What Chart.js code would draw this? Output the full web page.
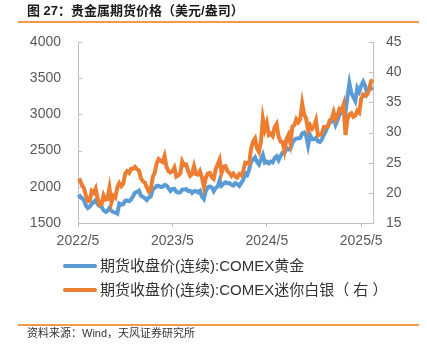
<!DOCTYPE html>
<html>
<head>
<meta charset="utf-8">
<script src="https://cdn.jsdelivr.net/npm/chart.js@4.4.1/dist/chart.umd.min.js"></script>
<style>
  body { margin: 0; background: #fff; font-family: "Liberation Sans", Arial, "Noto Sans CJK SC", sans-serif; }
  #wrap { position: relative; width: 427px; height: 349px; overflow: hidden; }
  #myChart { position: absolute; left: 0; top: 0; }
  .title { position: absolute; left: 27px; top: 3px; font-size: 13px; line-height: 16px; font-weight: bold; color: #1a1a1a; white-space: nowrap; }
  .rule { position: absolute; left: 18px; width: 401px; height: 1.5px; background: #f29a4a; }
  .leg { position: absolute; left: 63px; height: 20px; font-size: 15px; line-height: 20px; color: #333; white-space: nowrap; }
  .leg span { display: inline-block; width: 34px; height: 4px; border-radius: 2px; vertical-align: middle; margin-right: 3px; position: relative; top: -1px; }
  .source { position: absolute; left: 27px; top: 326px; font-size: 11px; line-height: 14px; color: #333; white-space: nowrap; }
</style>
</head>
<body>
<div id="wrap">
  <canvas id="myChart" width="427" height="349"></canvas>
  <div class="title">图 27：贵金属期货价格（美元/盎司）</div>
  <div class="rule" style="top:21px"></div>
  <div class="leg" style="top:256px"><span style="background:#5b9bd5"></span>期货收盘价(连续):COMEX黄金</div>
  <div class="leg" style="top:280px"><span style="background:#ed7d31"></span>期货收盘价(连续):COMEX迷你白银（ 右 ）</div>
  <div class="rule" style="top:324px"></div>
  <div class="source">资料来源：Wind，天风证券研究所</div>
</div>
<script>
// GRAPH METAUX PRECIEUX

const months = [
    '2022/5', '2022/6', '2022/7', '2022/8', '2022/9', '2022/10', '2022/11', '2022/12',
    '2023/1', '2023/2', '2023/3', '2023/4', '2023/5', '2023/6', '2023/7', '2023/8',
    '2023/9', '2023/10', '2023/11', '2023/12', '2024/1', '2024/2', '2024/3', '2024/4',
    '2024/5', '2024/6', '2024/7', '2024/8', '2024/9', '2024/10', '2024/11', '2024/12',
    '2025/1', '2025/2', '2025/3', '2025/4', '2025/5', '2025/6'
];

const xTicks = ['2022/5', '2023/5', '2024/5', '2025/5'];

// 4 valeurs par mois
const gold = [
    1852, 1871, 1840, 1817,
    1742, 1707, 1727, 1765,
    1791, 1816, 1760, 1738,
    1721, 1677, 1655, 1668,
    1709, 1668, 1650, 1645,
    1630, 1769, 1755, 1760,
    1809, 1810, 1800, 1826,
    1869, 1920, 1928, 1945,
    1876, 1862, 1842, 1817,
    1854, 1867, 1973, 1983,
    2011, 2015, 1999, 2000,
    2025, 2019, 1981, 1944,
    1970, 1971, 1929, 1920,
    1925, 1960, 1962, 1970,
    1944, 1946, 1916, 1940,
    1942, 1923, 1945, 1866,
    1832, 1941, 1994, 2006,
    1992, 1940, 1984, 2003,
    2089, 2014, 2040, 2062,
    2050, 2051, 2029, 2018,
    2053, 2038, 2013, 2055,
    2096, 2185, 2161, 2238,
    2345, 2374, 2406, 2347,
    2309, 2375, 2440, 2335,
    2348, 2325, 2348, 2336,
    2397, 2421, 2368, 2427,
    2470, 2469, 2538, 2516,
    2527, 2610, 2646, 2667,
    2667, 2676, 2736, 2749,
    2708, 2571, 2712, 2657,
    2657, 2675, 2628, 2620,
    2654, 2718, 2770, 2835,
    2886, 2900, 2953, 2858,
    2924, 3001, 3022, 3112,
    3035, 3244, 3430, 3298,
    3240, 3187, 3366, 3315,
    3397, 3452, 3395, 3290,
    3345, 3355, 3365
];

const silver = [
    22.0, 22.1, 21.3, 20.8,
    19.6, 18.6, 18.7, 20.3,
    20.0, 20.7, 19.1, 18.0,
    18.1, 19.6, 18.9, 19.0,
    20.8, 18.4, 19.5, 19.2,
    20.9, 21.6, 21.1, 21.5,
    23.2, 23.6, 23.3, 24.0,
    24.0, 24.3, 23.9, 23.7,
    22.4, 21.9, 21.7, 20.9,
    20.2, 20.6, 22.6, 23.3,
    24.9, 25.6, 25.3, 25.1,
    26.1, 24.3, 23.6, 23.4,
    23.6, 24.2, 22.7, 22.9,
    23.2, 25.2, 24.6, 24.7,
    23.6, 22.8, 23.1, 24.4,
    23.1, 23.0, 23.6, 22.6,
    21.0, 22.5, 23.2, 23.3,
    22.6, 22.3, 23.9, 24.7,
    25.5, 23.3, 24.3, 24.4,
    23.6, 23.3, 22.8, 23.2,
    22.7, 22.5, 23.1, 22.9,
    23.6, 25.0, 24.9, 24.8,
    27.3, 28.5, 29.0, 27.4,
    26.8, 28.4, 32.3, 30.5,
    31.6, 29.6, 29.8, 29.4,
    30.9, 31.4, 29.3, 28.5,
    28.4, 27.0, 28.9, 29.6,
    28.2, 31.0, 31.2, 32.2,
    31.7, 32.2, 34.8, 33.0,
    32.3, 30.4, 31.2, 30.6,
    31.0, 32.0, 29.5, 29.6,
    29.8, 30.9, 30.9, 31.0,
    32.0, 32.3, 33.4, 32.2,
    32.9, 33.9, 33.6, 34.6,
    29.6, 32.2, 33.0, 33.2,
    32.6, 32.8, 33.6, 33.3,
    35.6, 36.3, 36.1, 36.3,
    37.0, 38.5, 38.7
];

const labels = months.flatMap(m => [m, m, m, m]).slice(0, gold.length);

Chart.defaults.font.family = '"Liberation Sans", Arial, "Noto Sans CJK SC", sans-serif';
Chart.defaults.font.size = 14;
Chart.defaults.color = '#595959';

// petits traits vers l'interieur sur les axes Y
const innerTicks = {
    id: 'innerTicks',
    afterDraw(chart) {
        const ctx = chart.ctx;
        ctx.save();
        ctx.strokeStyle = '#bfbfbf';
        ctx.lineWidth = 1;
        ['y', 'y1'].forEach(id => {
            const s = chart.scales[id];
            const x = id === 'y' ? s.right : s.left;
            const d = id === 'y' ? 4 : -4;
            s.ticks.forEach((t, i) => {
                const y = Math.round(s.getPixelForTick(i)) + 0.5;
                ctx.beginPath();
                ctx.moveTo(x, y);
                ctx.lineTo(x + d, y);
                ctx.stroke();
            });
        });
        ctx.restore();
    }
};

const data = {
    labels: labels,
    datasets: [{
        label: '期货收盘价(连续):COMEX黄金',
        data: gold,
        borderColor: '#5b9bd5',
        backgroundColor: '#5b9bd5',
        borderWidth: 4,
        pointRadius: 0,
        yAxisID: 'y',
        order: 1
    }, {
        label: '期货收盘价(连续):COMEX迷你白银（右）',
        data: silver,
        borderColor: '#ed7d31',
        backgroundColor: '#ed7d31',
        borderWidth: 4,
        pointRadius: 0,
        yAxisID: 'y1',
        order: 0
    }]
};

const config = {
    type: 'line',
    data: data,
    plugins: [innerTicks],
    options: {
        responsive: false,
        animation: false,
        layout: { padding: { top: 42, left: 0, right: 0, bottom: 0 } },
        plugins: { legend: { display: false }, tooltip: { enabled: false } },
        scales: {
            x: {
                type: 'category',
                afterFit: s => { s.height = 126; },
                afterBuildTicks: s => {
                    s.ticks = s.ticks.filter(t => t.value % 4 === 0 && xTicks.includes(labels[t.value]));
                },
                grid: { drawOnChartArea: false, drawTicks: true, tickLength: 4, color: '#bfbfbf' },
                border: { color: '#bfbfbf' },
                ticks: { autoSkip: false, maxRotation: 0, padding: 6 }
            },
            y: {
                position: 'left',
                min: 1500,
                max: 4000,
                afterFit: s => { s.width = 78; },
                ticks: { stepSize: 500, padding: 17, callback: v => String(v) },
                grid: { drawOnChartArea: false, drawTicks: false },
                border: { color: '#bfbfbf' }
            },
            y1: {
                position: 'right',
                min: 15,
                max: 45,
                afterFit: s => { s.width = 54; },
                ticks: { stepSize: 5, padding: 13, callback: v => String(v) },
                grid: { drawOnChartArea: false, drawTicks: false },
                border: { color: '#bfbfbf' }
            }
        }
    }
};

const myChart = new Chart(
    document.getElementById('myChart'),
    config
);

// FIN GRAPH
</script>
</body>
</html>
